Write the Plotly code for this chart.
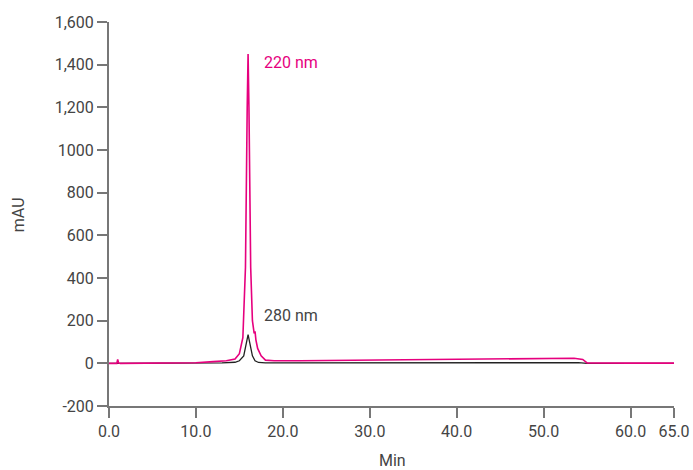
import plotly.graph_objects as go

# 220 nm trace
t220 = [0, 0.9, 1.0, 1.1, 1.3, 5, 10, 12, 13.5, 14.5, 15.0, 15.4, 15.7, 15.9, 16.0, 16.1, 16.3, 16.5,
        16.7, 16.8, 16.9, 17.1, 17.5, 18.0, 19, 22, 30, 40, 50, 53.5, 54.5, 55, 60, 65]
a220 = [0, 0, 18, 2, 0, 1, 3, 8, 12, 20, 45, 120, 450, 1200, 1450, 1200, 450, 200,
        140, 150, 110, 70, 35, 15, 12, 12, 15, 20, 24, 24, 18, 2, 1, 1]

# 280 nm trace
t280 = [0, 5, 10, 13, 14.5, 15.0, 15.5, 15.8, 16.0, 16.2, 16.5, 16.8, 17.2, 18, 20, 30, 40, 50, 54, 55, 60, 65]
a280 = [0, 0, 1, 2, 5, 12, 35, 95, 135, 95, 35, 12, 4, 2, 2, 2, 3, 4, 3, 0, 0, 0]

x_ticks = [0, 10, 20, 30, 40, 50, 60, 65]
x_labels = ["0.0", "10.0", "20.0", "30.0", "40.0", "50.0", "60.0", "65.0"]
y_ticks = [-200, 0, 200, 400, 600, 800, 1000, 1200, 1400, 1600]
y_labels = ["-200", "0", "200", "400", "600", "800", "1000", "1,200", "1,400", "1,600"]

PINK = "#e6007e"
DARK = "#222222"
FONT = "Roboto, sans-serif"
TXT = "#444444"
FS = 16

fig = go.Figure()
fig.add_trace(go.Scatter(x=t280, y=a280, mode="lines", line=dict(color=DARK, width=1.3), showlegend=False))
fig.add_trace(go.Scatter(x=t220, y=a220, mode="lines", line=dict(color=PINK, width=1.6), showlegend=False))

fig.add_annotation(x=17.6, y=1410, text="220 nm", showarrow=False, xanchor="left", yanchor="middle",
                   font=dict(family=FONT, size=FS, color=PINK))
fig.add_annotation(x=17.6, y=225, text="280 nm", showarrow=False, xanchor="left", yanchor="middle",
                   font=dict(family=FONT, size=FS, color=TXT))

fig.add_annotation(xref="paper", yref="paper", x=-0.161, y=0.497, text="mAU", textangle=-90,
                   showarrow=False, xanchor="center", yanchor="middle",
                   font=dict(family=FONT, size=FS, color=TXT))
fig.add_annotation(xref="paper", yref="paper", x=0.501, y=-0.141, text="Min",
                   showarrow=False, xanchor="center", yanchor="middle",
                   font=dict(family=FONT, size=FS, color=TXT))

axis_common = dict(showgrid=False, zeroline=False, showline=True, linecolor="#777777", linewidth=2,
                   ticks="outside", ticklen=10, tickwidth=2, tickcolor="#777777", automargin=False,
                   tickfont=dict(family=FONT, size=FS, color=TXT))

fig.update_xaxes(range=[0, 65], tickvals=x_ticks, ticktext=x_labels, **axis_common)
fig.update_yaxes(range=[-200, 1600], tickvals=y_ticks, ticktext=y_labels, **axis_common)

fig.update_layout(width=693, height=470, margin=dict(l=109, r=19, t=22, b=64, autoexpand=False),
                  plot_bgcolor="white", paper_bgcolor="white", hovermode=False)

fig.write_html("out.html", config={"displayModeBar": False, "staticPlot": True},
               post_script="document.body.style.margin='0';document.body.style.overflow='hidden';")
